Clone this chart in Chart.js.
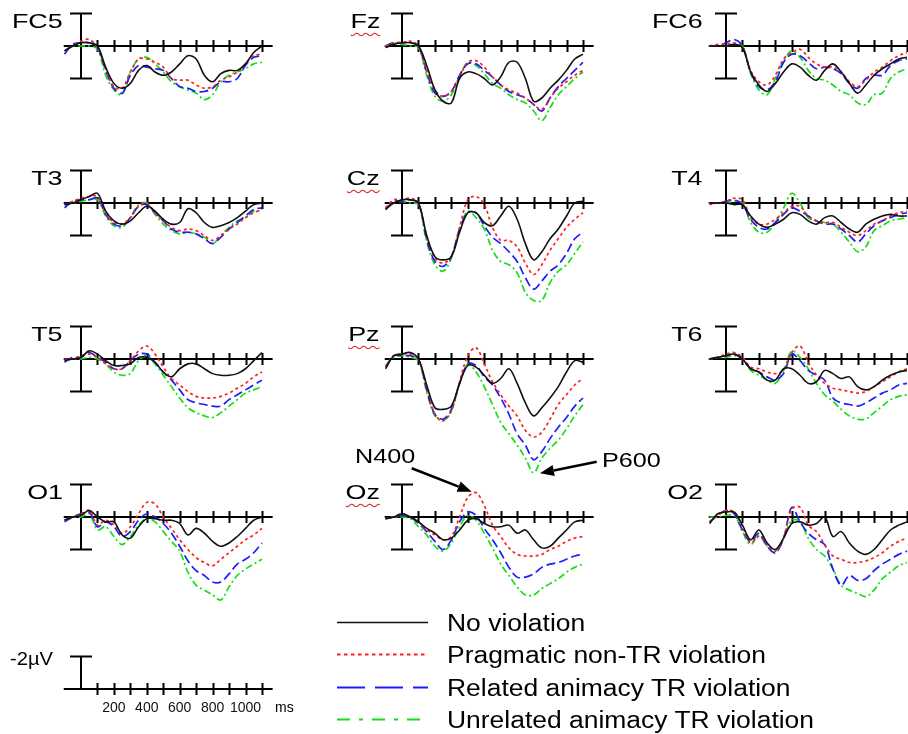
<!DOCTYPE html>
<html>
<head>
<meta charset="utf-8">
<script src="https://cdn.jsdelivr.net/npm/chart.js@4.4.0/dist/chart.umd.min.js"></script>
<style>
  body { margin: 0; width: 908px; height: 734px; overflow: hidden; background: #fff; position: relative;
         font-family: "Liberation Sans", Arial, sans-serif; color: #000; }
  canvas.erp { position: absolute; }
  .txt { position: absolute; line-height: 1; white-space: nowrap; }
  .squiggle { text-decoration: underline wavy #e02020 1px; text-underline-offset: 4px; }
  svg { position: absolute; left: 0; top: 0; }
</style>
</head>
<body>
<script>
// sample times (ms) every trace is read at
const times = [-100,-50,0,50,100,150,200,250,300,350,400,450,500,550,600,650,700,750,800,850,900,950,1000,1050,1100];
const conditions = ["No violation", "Pragmatic non-TR violation", "Related animacy TR violation", "Unrelated animacy TR violation"];
const electrodes = ["FC5","Fz","FC6","T3","Cz","T4","T5","Pz","T6","O1","Oz","O2"];
const xTicks = [100,200,300,400,500,600,700,800,900,1000,1100];
const scaleTicks = [200,400,600,800,1000];

// µV, positive plotted downward; order: no violation, pragmatic, related, unrelated
const FC5 = [
  [0.3,0.0,-0.2,-0.2,0.0,1.3,2.3,2.6,2.3,1.5,1.2,1.6,1.8,1.6,1.1,0.6,0.8,1.8,2.2,1.7,1.5,1.5,1.1,0.4,0.0],
  [0.3,0.0,-0.3,-0.4,0.1,1.4,2.5,2.6,1.6,0.8,0.8,1.0,1.3,2.0,2.1,2.1,2.4,2.6,2.5,2.1,1.9,1.6,1.1,0.6,0.5],
  [0.5,-0.1,-0.2,-0.2,0.1,1.5,2.6,2.9,1.8,1.2,1.3,1.4,1.5,2.0,2.5,2.6,2.8,2.8,2.6,2.2,2.2,2.0,1.2,0.7,0.6],
  [0.3,0.0,0.0,0.0,0.2,1.8,2.7,3.0,1.6,0.8,0.7,1.1,1.6,2.2,2.5,2.7,2.9,3.3,3.0,2.2,1.8,1.6,1.4,1.1,1.0]
];
const Fz = [
  [0.1,-0.1,-0.2,-0.2,0.0,1.2,2.7,3.4,3.5,2.0,1.6,1.7,2.0,2.4,1.9,1.0,1.0,2.0,3.4,3.2,2.6,2.1,1.5,0.8,0.5],
  [0.0,-0.2,-0.2,-0.3,0.0,1.5,2.7,3.1,2.8,1.9,1.0,0.9,1.3,1.9,2.4,2.7,2.9,3.2,3.6,3.9,3.2,2.6,2.2,1.8,1.5],
  [0.0,-0.2,-0.2,-0.2,0.0,1.6,2.9,3.1,2.8,1.8,1.1,1.1,1.5,1.9,2.4,2.8,3.0,3.2,3.6,4.0,3.2,2.5,2.0,1.5,1.0],
  [0.0,-0.2,-0.1,0.0,0.1,1.8,3.1,3.4,3.0,1.9,1.0,1.2,1.7,2.3,2.6,3.0,3.3,3.5,4.0,4.6,3.8,3.0,2.5,2.0,1.6]
];
const FC6 = [
  [0.0,0.0,0.0,-0.1,0.1,1.6,2.4,2.8,2.3,1.6,1.1,1.3,1.8,2.1,1.5,1.1,1.6,2.3,2.9,2.4,1.8,1.4,1.1,0.8,0.7],
  [0.0,-0.1,-0.1,-0.2,0.1,1.5,2.2,2.4,1.8,0.8,0.4,0.2,0.7,1.1,1.3,1.3,1.6,2.2,2.5,2.1,1.6,1.3,0.9,0.6,0.4],
  [0.0,0.0,-0.2,-0.4,0.0,1.6,2.5,2.7,2.2,1.0,0.5,0.6,1.0,1.4,1.3,1.4,1.7,2.3,2.6,2.0,1.8,1.8,1.2,0.9,0.8],
  [0.0,0.0,0.0,-0.1,0.0,1.7,2.7,3.0,2.0,0.9,0.3,0.7,1.5,2.0,2.1,2.4,2.8,3.0,3.5,3.6,3.0,2.9,2.0,1.6,1.4]
];
const T3 = [
  [0.1,0.0,-0.2,-0.4,-0.6,0.5,1.1,1.3,1.1,0.6,0.2,0.5,1.0,1.3,1.2,0.35,0.6,1.2,1.5,1.4,1.2,0.9,0.5,0.1,0.0],
  [0.1,-0.1,-0.3,-0.4,-0.4,0.6,1.2,1.3,0.9,0.2,0.0,0.6,1.1,1.5,1.7,1.6,1.7,2.0,2.3,2.0,1.6,1.3,0.9,0.6,0.4],
  [0.3,-0.1,-0.2,-0.2,-0.3,0.7,1.3,1.4,0.9,0.2,0.1,0.6,1.1,1.6,1.8,1.8,1.9,2.2,2.5,2.1,1.6,1.2,0.8,0.4,0.3],
  [0.1,0.0,-0.1,-0.2,-0.2,0.8,1.4,1.5,0.9,0.1,0.0,0.7,1.3,1.7,1.9,1.8,1.9,2.1,2.5,2.0,1.5,1.1,0.9,0.5,0.5]
];
const Cz = [
  [0.4,0.0,-0.2,-0.2,0.0,2.0,3.3,3.5,3.3,1.8,0.6,0.6,1.2,1.4,0.8,0.2,1.0,2.5,3.5,3.0,2.2,1.6,0.8,0.0,-0.1],
  [0.3,-0.2,-0.2,-0.3,0.0,2.0,3.4,3.7,3.3,1.5,-0.2,-0.4,0.1,1.5,2.3,2.3,2.7,3.7,4.4,3.8,2.9,2.2,1.5,1.0,0.6],
  [0.4,-0.1,-0.1,-0.2,0.0,2.2,3.6,3.9,3.3,1.6,0.6,0.6,1.4,2.1,2.5,3.0,3.6,4.6,5.3,4.8,4.2,3.8,3.1,2.2,1.8],
  [0.3,0.0,-0.1,0.0,0.1,2.4,3.8,4.2,3.4,1.6,0.5,0.9,1.6,2.9,3.6,3.8,4.3,5.5,6.0,6.0,4.9,4.2,3.8,3.1,2.4]
];
const T4 = [
  [0.0,0.0,0.0,0.1,0.1,0.8,1.3,1.5,1.3,1.0,0.6,0.7,1.1,1.3,0.9,0.8,1.2,1.6,1.8,1.3,1.0,0.8,0.7,0.8,0.8],
  [0.1,0.0,-0.1,-0.3,-0.2,0.9,1.3,1.3,1.0,0.6,0.2,0.2,0.8,1.1,1.2,1.2,1.5,1.8,2.0,1.7,1.3,1.1,0.8,0.6,0.5],
  [0.0,0.0,-0.1,-0.2,0.1,1.0,1.5,1.6,1.2,0.7,0.3,0.5,0.8,1.1,1.3,1.3,1.6,2.0,2.4,1.9,1.4,1.1,0.9,0.7,0.6],
  [0.0,0.0,0.0,-0.1,0.0,1.2,1.8,1.8,1.2,0.3,-0.6,0.0,0.9,1.1,1.2,1.3,1.8,2.4,3.0,2.7,1.7,1.4,1.1,1.0,0.9]
];
const T5 = [
  [0.1,0.0,-0.1,-0.5,-0.3,0.1,0.4,0.4,0.3,-0.1,-0.1,0.2,0.8,1.1,0.6,0.3,0.3,0.6,0.9,1.0,1.0,0.9,0.6,0.1,-0.4],
  [0.0,0.0,-0.2,-0.3,-0.1,0.3,0.6,0.6,0.1,-0.5,-0.8,-0.3,0.5,1.2,1.6,2.0,2.3,2.4,2.4,2.3,2.1,1.8,1.5,1.1,0.8],
  [0.2,-0.1,-0.1,-0.4,-0.1,0.2,0.6,0.6,0.1,-0.3,-0.3,0.2,0.8,1.3,1.9,2.5,2.7,2.8,2.9,2.9,2.5,2.2,1.9,1.6,1.3],
  [0.1,0.0,0.0,-0.1,0.0,0.3,0.8,1.0,0.9,0.1,-0.2,0.3,1.0,1.7,2.4,3.0,3.3,3.5,3.6,3.3,2.9,2.5,2.1,1.9,1.7]
];
const Pz = [
  [0.6,-0.2,-0.3,-0.4,0.0,1.6,3.0,3.1,2.9,1.5,0.4,0.5,1.0,1.5,1.2,0.6,1.5,2.7,3.5,3.0,2.4,1.7,0.8,0.1,0.2],
  [0.5,-0.2,-0.3,-0.3,0.0,1.7,3.4,3.8,3.2,1.4,-0.2,-0.7,0.3,1.4,2.2,2.9,3.5,4.4,4.8,4.5,3.7,2.8,2.2,1.6,1.2],
  [0.5,-0.2,-0.2,-0.2,0.0,1.9,3.4,3.7,3.1,1.5,0.3,0.4,1.1,1.6,2.4,3.4,4.6,5.3,6.2,5.7,4.9,4.2,3.6,2.9,2.4],
  [0.4,-0.1,-0.2,-0.1,0.1,2.0,3.5,3.8,3.2,1.5,0.3,0.8,1.7,2.8,3.9,4.6,5.3,6.1,7.0,6.1,5.5,5.0,4.3,3.5,2.8]
];
const T6 = [
  [0.0,-0.1,-0.2,-0.3,0.0,0.6,0.8,1.3,1.3,0.6,0.6,1.0,1.5,1.4,0.7,0.9,1.2,1.1,1.7,1.9,1.7,1.3,1.0,0.8,0.7],
  [0.0,-0.1,-0.3,-0.4,-0.1,0.5,0.6,0.8,0.9,0.7,-0.4,-0.8,0.2,1.0,1.5,1.8,1.9,2.0,2.1,2.0,1.7,1.4,1.1,0.8,0.6],
  [0.0,-0.1,-0.2,-0.3,0.0,0.6,0.8,1.1,1.3,0.9,-0.3,0.1,0.7,1.0,1.3,2.4,2.7,2.8,2.9,2.7,2.4,2.1,1.9,1.6,1.5],
  [0.0,-0.1,-0.1,-0.2,0.0,0.7,1.0,1.3,1.5,0.7,-0.5,-0.1,0.6,1.5,2.2,2.6,3.1,3.5,3.7,3.7,3.3,2.9,2.5,2.3,2.2]
];
const O1 = [
  [0.2,0.0,-0.1,-0.4,0.0,0.3,0.3,1.1,1.3,0.6,0.1,0.1,0.2,0.2,0.4,1.1,0.7,1.0,1.5,1.8,1.6,1.2,0.7,0.2,0.0],
  [0.2,0.0,-0.2,-0.4,0.5,0.2,0.5,1.0,0.6,-0.2,-0.9,-0.8,0.0,0.7,1.4,2.0,2.5,2.8,3.0,2.6,2.2,1.8,1.4,1.1,0.7],
  [0.3,0.0,-0.2,-0.3,0.6,0.3,0.6,1.2,0.9,0.2,-0.2,0.0,0.4,1.0,1.8,2.7,3.3,3.6,4.0,4.0,3.5,2.9,2.6,2.2,1.6],
  [0.2,0.0,0.0,-0.2,0.8,0.6,1.2,1.7,1.2,0.5,0.1,0.3,0.9,1.5,2.1,3.4,4.2,4.5,4.8,5.1,4.3,3.6,3.2,2.9,2.6]
];
const Oz = [
  [0.1,0.0,-0.2,0.0,0.3,0.7,1.0,1.4,1.3,0.8,0.2,0.1,0.4,0.6,0.6,0.5,1.0,0.8,1.4,1.9,1.8,1.3,0.8,0.3,0.2],
  [0.1,0.0,-0.2,0.0,0.3,0.8,1.1,1.4,1.2,0.0,-1.2,-1.5,-0.7,0.5,1.2,1.9,2.3,2.4,2.4,2.3,2.0,1.8,1.5,1.3,1.2],
  [0.1,0.0,-0.1,0.0,0.4,0.9,1.5,2.0,1.4,0.3,-0.3,-0.1,0.7,1.4,2.2,3.1,3.7,3.7,3.5,3.1,2.9,2.8,2.6,2.4,2.3],
  [0.1,0.0,0.0,0.1,0.6,1.1,1.8,2.1,1.6,0.6,-0.1,0.2,1.0,1.9,2.9,3.6,4.3,4.8,4.8,4.4,4.1,3.8,3.4,3.1,2.9]
];
const O2 = [
  [0.4,-0.2,-0.3,-0.3,0.5,1.4,0.8,1.6,2.0,1.3,0.4,0.3,0.5,0.4,0.0,1.2,0.9,1.6,2.1,2.3,2.0,1.4,0.8,0.5,0.3],
  [0.3,-0.1,-0.4,-0.3,0.6,1.6,1.2,1.7,2.1,1.3,-0.5,-0.6,0.5,0.9,1.7,2.4,2.6,2.8,2.8,2.7,2.5,2.2,1.8,1.5,1.3],
  [0.3,-0.1,-0.4,-0.2,0.8,1.5,1.0,1.8,2.2,1.3,-0.6,0.3,1.0,1.4,1.7,3.2,4.2,3.6,3.9,3.8,3.3,2.9,2.6,2.3,2.1],
  [0.0,0.0,-0.1,-0.1,0.9,1.7,1.1,1.8,2.2,1.3,0.2,0.3,1.3,2.0,2.4,3.2,4.2,4.5,4.7,4.9,4.5,3.8,3.4,3.0,2.8]
];
const panelData = [FC5, Fz, FC6, T3, Cz, T4, T5, Pz, T6, O1, Oz, O2];

// layout of the grid
const colX = [81, 402, 726];
const rowY = [46, 203, 359, 517];
const labelGap = [18, 22, 23];
const PX_MS = 0.1645, PX_UV = 16.25;
const CW = 222, CH = 200, PAD_L = 23, PAD_T = 49;

const styles = [
  { color: "#111111", dash: [],          width: 1.6 },
  { color: "#ff2020", dash: [3, 3],      width: 1.7 },
  { color: "#1c1cff", dash: [9, 4],      width: 1.7 },
  { color: "#12e012", dash: [7, 3, 2, 3], width: 1.7 }
];

const erpAxes = {
  id: "erpAxes",
  beforeDatasetsDraw(chart, args, o) {
    const { ctx, scales: { x, y } } = chart;
    const x0 = x.getPixelForValue(0), y0 = y.getPixelForValue(0);
    ctx.save();
    ctx.strokeStyle = "#000";
    ctx.lineWidth = 2;
    ctx.beginPath();
    ctx.moveTo(x.getPixelForValue(-105), y0);
    ctx.lineTo(x.getPixelForValue(1165), y0);
    xTicks.forEach(t => {
      const px = Math.round(x.getPixelForValue(t)) + 0.5;
      ctx.moveTo(px, y0 - 6);
      ctx.lineTo(px, y0 + 6);
    });
    const yTop = y.getPixelForValue(-2), yBot = y.getPixelForValue(o.half ? 0 : 2);
    ctx.moveTo(x0, yTop); ctx.lineTo(x0, yBot);
    ctx.moveTo(x0 - 11, yTop); ctx.lineTo(x0 + 11, yTop);
    if (!o.half) { ctx.moveTo(x0 - 11, yBot); ctx.lineTo(x0 + 11, yBot); }
    ctx.stroke();
    if (o.labels) {
      ctx.fillStyle = "#111";
      ctx.font = '14px "Liberation Sans", Arial, sans-serif';
      ctx.textAlign = "center";
      ctx.textBaseline = "alphabetic";
      scaleTicks.forEach(t => ctx.fillText(String(t), x.getPixelForValue(t), y0 + 23));
    }
    ctx.restore();
  }
};

function makePanel(cx, zy, series, axisOpts) {
  const canvas = document.createElement("canvas");
  canvas.className = "erp";
  canvas.width = CW; canvas.height = CH;
  canvas.style.left = (cx - PAD_L) + "px";
  canvas.style.top = (zy - PAD_T) + "px";
  document.body.appendChild(canvas);
  const datasets = series.map((vals, i) => ({
    label: conditions[i],
    data: times.map((t, k) => ({ x: t, y: vals[k] })),
    borderColor: styles[i].color,
    borderDash: styles[i].dash,
    borderWidth: styles[i].width,
    pointRadius: 0,
    fill: false,
    tension: 0.35
  }));
  new Chart(canvas, {
    type: "line",
    data: { datasets },
    options: {
      responsive: false,
      animation: false,
      events: [],
      layout: { padding: 0 },
      plugins: { legend: { display: false }, tooltip: { enabled: false }, erpAxes: axisOpts },
      scales: {
        x: { type: "linear", display: false, min: -PAD_L / PX_MS, max: (CW - PAD_L) / PX_MS },
        y: { type: "linear", display: false, reverse: true, min: -PAD_T / PX_UV, max: (CH - PAD_T) / PX_UV }
      }
    },
    plugins: [erpAxes]
  });
}

function addText(txt, x, baseline, size, align, stretch, cls) {
  const d = document.createElement("div");
  d.className = "txt" + (cls ? " " + cls : "");
  d.textContent = txt;
  d.style.fontSize = size + "px";
  d.style.top = (baseline - 0.8465 * size) + "px";
  if (align === "right") {
    d.style.right = (908 - x) + "px";
    d.style.transformOrigin = "right center";
  } else {
    d.style.left = x + "px";
    d.style.transformOrigin = "left center";
  }
  d.style.transform = "scaleX(" + stretch + ")";
  document.body.appendChild(d);
}

electrodes.forEach((name, i) => {
  const c = i % 3, r = Math.floor(i / 3);
  makePanel(colX[c], rowY[r], panelData[i], { half: false, labels: false });
  addText(name, colX[c] - labelGap[c], rowY[r] - 18.5, 21, "right", 1.28, c === 1 ? "squiggle" : "");
});

// calibration panel
makePanel(81, 689, [], { half: true, labels: true });
addText("-2\u00b5V", 10, 665, 18, "left", 1.12);
addText("ms", 275, 711.5, 14, "left", 1.0);

// legend and annotations
const legendY = [622.5, 654.5, 687.5, 719.5];
const legendDash = [[], [3.5, 3.5], [28, 10], [13, 9, 4, 9]];
const NS = "http://www.w3.org/2000/svg";
const svg = document.createElementNS(NS, "svg");
svg.setAttribute("width", 908); svg.setAttribute("height", 734);
document.body.appendChild(svg);
function svgEl(tag, attrs) {
  const e = document.createElementNS(NS, tag);
  for (const k in attrs) e.setAttribute(k, attrs[k]);
  svg.appendChild(e);
  return e;
}
conditions.forEach((name, i) => {
  svgEl("line", { x1: 337, y1: legendY[i], x2: 428, y2: legendY[i], stroke: styles[i].color,
    "stroke-width": i === 0 ? 1.6 : 2, "stroke-dasharray": legendDash[i].join(" ") || "none" });
  addText(name, 446.5, legendY[i] + 9, 23, "left", 1.15);
});
function arrow(x1, y1, x2, y2) {
  const a = Math.atan2(y2 - y1, x2 - x1), L = 14, W = 5.5;
  const bx = x2 - L * Math.cos(a), by = y2 - L * Math.sin(a);
  svgEl("line", { x1, y1, x2: bx, y2: by, stroke: "#000", "stroke-width": 2.6 });
  const p = [[x2, y2], [bx - W * Math.sin(a), by + W * Math.cos(a)], [bx + W * Math.sin(a), by - W * Math.cos(a)]];
  svgEl("polygon", { points: p.map(q => q.join(",")).join(" "), fill: "#000" });
}
arrow(411.7, 468.3, 471.7, 491.7);
arrow(596.7, 461.7, 540, 473.3);
addText("N400", 355, 463, 21, "left", 1.2);
addText("P600", 601.7, 466.7, 21, "left", 1.2);
</script>
</body>
</html>
